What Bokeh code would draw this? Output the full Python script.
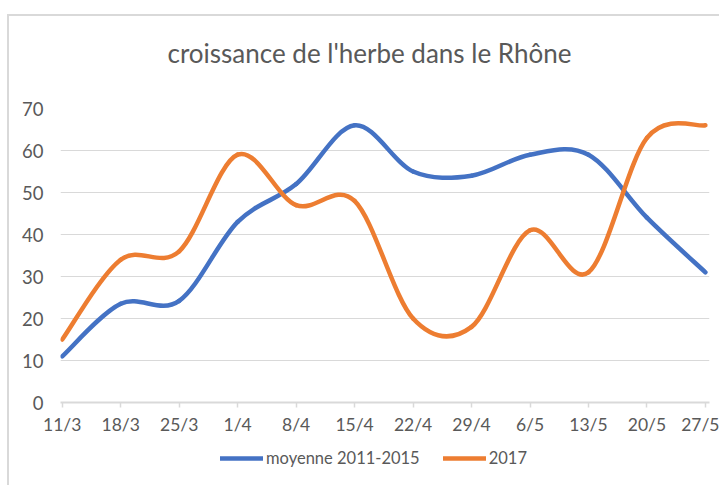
from bokeh.plotting import figure
from bokeh.layouts import column
from bokeh.models import Range1d, FixedTicker, Legend, LegendItem, Label
from bokeh.embed import file_html
from bokeh.resources import INLINE

categories = ["11/3", "18/3", "25/3", "1/4", "8/4", "15/4", "22/4", "29/4", "6/5", "13/5", "20/5", "27/5"]
moyenne = [11, 23.5, 24.2, 43, 52, 66, 55, 54, 59, 59, 44, 31]
annee_2017 = [15, 34, 36, 59, 47, 48, 20, 18, 41, 31, 63, 66]
y_ticks = [0, 10, 20, 30, 40, 50, 60, 70]
series_names = ["moyenne 2011-2015", "2017"]
chart_title = "croissance de l'herbe dans le Rhône"

BLUE = "#4472C4"
ORANGE = "#ED7D31"
GRID = "#D9D9D9"
TXT = "#595959"
FONT = "Lato"
BORDER = "2px solid #D9D9D9"
W = 712


def smooth_segments(xs, ys):
    """Excel-style smoothed line: cubic Bezier segments through the data points."""
    n = len(xs)
    seg = dict(x0=[], y0=[], x1=[], y1=[], cx0=[], cy0=[], cx1=[], cy1=[])
    for i in range(n - 1):
        xp, yp = (xs[i - 1], ys[i - 1]) if i > 0 else (xs[i], ys[i])
        xn, yn = (xs[i + 2], ys[i + 2]) if i + 2 < n else (xs[i + 1], ys[i + 1])
        seg["x0"].append(xs[i]); seg["y0"].append(ys[i])
        seg["x1"].append(xs[i + 1]); seg["y1"].append(ys[i + 1])
        seg["cx0"].append(xs[i] + (xs[i + 1] - xp) / 6.0)
        seg["cy0"].append(ys[i] + (ys[i + 1] - yp) / 6.0)
        seg["cx1"].append(xs[i + 1] - (xn - xs[i]) / 6.0)
        seg["cy1"].append(ys[i + 1] - (yn - ys[i]) / 6.0)
    return seg


def strip(height, margin, styles):
    f = figure(width=W, height=height, output_backend="svg", toolbar_location=None,
               x_axis_type=None, y_axis_type=None,
               x_range=Range1d(0, 1), y_range=Range1d(1000, 1001),
               min_border=0, min_border_left=0, min_border_right=0,
               min_border_top=0, min_border_bottom=0)
    f.margin = margin
    f.styles = styles
    f.outline_line_color = None
    f.background_fill_color = "white"
    f.border_fill_color = "white"
    return f


xs = list(range(len(categories)))

# ---------------- title strip ----------------
top = strip(80, (14, 0, 0, 7), {"border-top": BORDER, "border-left": BORDER})
top.add_layout(Label(x=107, y=44, x_units="screen", y_units="screen", text=chart_title,
                     text_align="left", text_baseline="middle",
                     text_font=FONT, text_font_size="26px", text_color=TXT))

# ---------------- main chart ----------------
p = figure(width=W, height=344, output_backend="svg", toolbar_location=None,
           x_range=Range1d(-0.03, len(categories) - 1 + 0.07), y_range=Range1d(0, 70),
           min_border_left=51, min_border_right=12, min_border_top=14, min_border_bottom=36)
p.margin = (0, 0, 0, 7)
p.styles = {"border-left": BORDER}
p.outline_line_color = None
p.background_fill_color = "white"
p.border_fill_color = "white"

p.bezier(line_color=BLUE, line_width=4.5, line_cap="round", **smooth_segments(xs, moyenne))
p.bezier(line_color=ORANGE, line_width=4.5, line_cap="round", **smooth_segments(xs, annee_2017))

p.xaxis.ticker = FixedTicker(ticks=xs)
p.xaxis.major_label_overrides = {i: c for i, c in enumerate(categories)}
p.xaxis.axis_line_color = GRID
p.xaxis.axis_line_width = 2
p.xaxis.major_tick_line_color = GRID
p.xaxis.major_tick_line_width = 1.5
p.xaxis.major_tick_out = 5
p.xaxis.major_tick_in = 0
p.xaxis.minor_tick_line_color = None
p.xaxis.major_label_text_font = FONT
p.xaxis.major_label_text_font_size = "17.5px"
p.xaxis.major_label_text_color = TXT
p.xaxis.major_label_standoff = 6

p.yaxis.ticker = FixedTicker(ticks=y_ticks)
p.yaxis.axis_line_color = None
p.yaxis.major_tick_line_color = None
p.yaxis.minor_tick_line_color = None
p.yaxis.major_label_text_font = FONT
p.yaxis.major_label_text_font_size = "18.5px"
p.yaxis.major_label_text_color = TXT
p.yaxis.major_label_standoff = 11

p.xgrid.grid_line_color = None
p.ygrid.ticker = FixedTicker(ticks=y_ticks)
p.ygrid.grid_line_color = GRID
p.ygrid.grid_line_width = 1

# ---------------- legend strip ----------------
leg = strip(47, (0, 0, 0, 7), {"border-left": BORDER})
# legend swatches: same series drawn with the same style, kept out of view
l_blue = leg.line(x=xs, y=moyenne, line_color=BLUE, line_width=4.5, line_cap="round")
l_orange = leg.line(x=xs, y=annee_2017, line_color=ORANGE, line_width=4.5, line_cap="round")

legend = Legend(items=[LegendItem(label=series_names[0], renderers=[l_blue]),
                       LegendItem(label=series_names[1], renderers=[l_orange])],
                orientation="horizontal", location=(160, 17),
                padding=0, margin=0, spacing=23, label_standoff=3,
                glyph_width=43, glyph_height=20,
                label_text_font=FONT, label_text_font_size="16.5px", label_text_color=TXT,
                border_line_color=None, background_fill_alpha=0)
leg.add_layout(legend, "center")

layout = column(top, p, leg, spacing=0)
open("out.html", "w").write(file_html(layout, INLINE))
